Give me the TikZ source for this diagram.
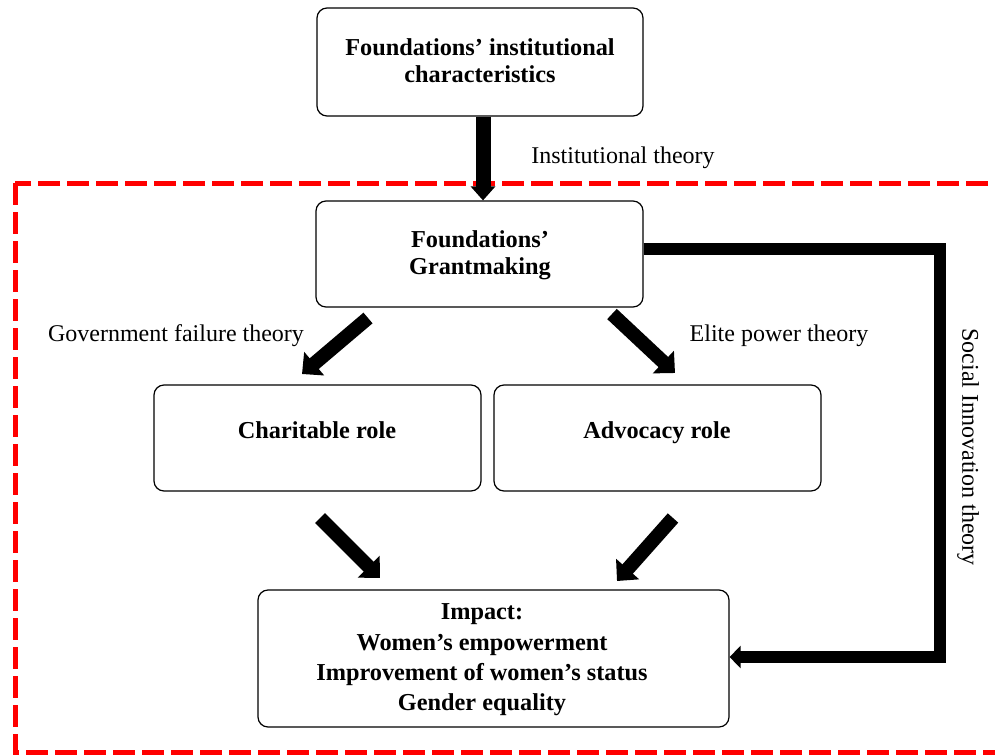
\documentclass[tikz,border=0pt]{standalone}
\usepackage{fontspec}
\setmainfont{Liberation Serif}
\usetikzlibrary{arrows.meta}

\begin{document}
\begin{tikzpicture}[x=1pt,y=-1pt,
  box/.style={draw, line width=1.2pt, rounded corners=10pt, inner sep=0pt},
  boxtext/.style={font=\fontsize{24.3}{27}\selectfont\bfseries, align=center, inner sep=0pt},
  lbl/.style={font=\fontsize{24}{27}\selectfont, inner sep=0pt},
  blockarrow/.style={line width=14pt, -{Triangle[length=16pt,width=30pt]}},
  feedback/.style={line width=12pt, line join=miter, -{Triangle[length=11pt,width=22pt]}},
  frame/.style={draw=red, line width=5pt, dash pattern=on 22pt off 7pt}
]
\useasboundingbox (0,0) rectangle (995,755);
\clip (0,0) rectangle (995,755);
\fill[white] (0,0) rectangle (995,755);

% red dashed frame around the grantmaking part
\draw[frame] (15,183) rectangle (1020,752);

% boxes
\node[box, minimum width=326pt, minimum height=108pt] (top) at (480,62) {};
\node[boxtext] (toptext) at (480,60.5) {Foundations’ institutional\\characteristics};

\node[box, minimum width=327pt, minimum height=106pt] (grant) at (479.5,254) {};
\node[boxtext] (granttext) at (480,255.5) {Foundations’\\Grantmaking};

\node[box, minimum width=327pt, minimum height=106pt] (charity) at (317.5,438) {};
\node[boxtext, anchor=base] (charitytext) at (317,438) {Charitable role};

\node[box, minimum width=327pt, minimum height=106pt] (advocacy) at (657.5,438) {};
\node[boxtext, anchor=base] (advocacytext) at (657,438) {Advocacy role};

\node[box, minimum width=471pt, minimum height=137pt] (impact) at (493.5,658.5) {};
\node[boxtext, font=\fontsize{24.3}{30.3}\selectfont\bfseries] (impacttext) at (482,660) {Impact:\\Women’s empowerment\\Improvement of women’s status\\Gender equality};

% theory labels
\node[lbl] (instlbl) at (623,158) {Institutional theory};
\node[lbl] (govlbl) at (176,336) {Government failure theory};
\node[lbl] (elitelbl) at (779,336) {Elite power theory};
\node[lbl, rotate=-90] (sociallbl) at (968,447) {Social Innovation theory};

% arrow end points
\coordinate (gl) at (368,318);
\coordinate (cl) at (302,374);
\coordinate (gr) at (612,314);
\coordinate (ar) at (675,373);
\coordinate (cb) at (320,518);
\coordinate (ib1) at (380,578);
\coordinate (ab) at (673,518);
\coordinate (ib2) at (617,581);
\coordinate (fbtop) at (940,249);
\coordinate (fbbot) at (940,657);

% connectors
\draw[line width=15pt, -{Triangle[length=14pt,width=24pt]}] (top.south -| 483,0) -- (grant.north -| 483,0);
\draw[blockarrow] (gl) -- (cl);
\draw[blockarrow] (gr) -- (ar);
\draw[blockarrow] (cb) -- (ib1);
\draw[blockarrow] (ab) -- (ib2);
\draw[feedback] (grant.east |- fbtop) -- (fbtop) -- (fbbot) -- (impact.east |- fbbot);
\end{tikzpicture}
\end{document}
